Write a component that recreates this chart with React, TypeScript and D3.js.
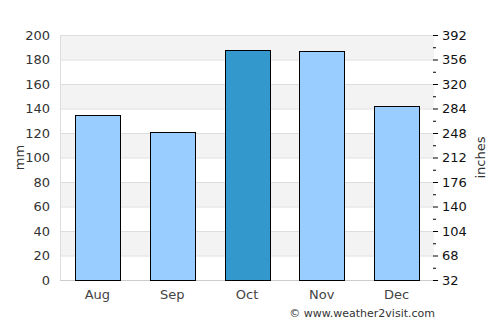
import React from 'react'
import * as d3 from 'd3'

const months = ['Aug', 'Sep', 'Oct', 'Nov', 'Dec']
const rainfall = [135, 121, 188, 187, 142]
const highlight = 'Oct'
const leftTicks = [0, 20, 40, 60, 80, 100, 120, 140, 160, 180, 200]
const rightLabels = ['32', '68', '104', '140', '176', '212', '248', '284', '320', '356', '392']

const width = 500
const height = 325
const margin = { top: 35, right: 66, bottom: 45, left: 60 }

export default function App() {
    const innerW = width - margin.left - margin.right
    const innerH = height - margin.top - margin.bottom

    const x = d3.scaleBand<string>().domain(months).range([0, innerW]).paddingInner(0.4).paddingOuter(0.2)
    const y = d3.scaleLinear().domain([0, 200]).range([innerH, 0])
    const minor = d3.range(10, 200, 20)

    return (
        <svg
            width={width}
            height={height}
            style={{ position: 'absolute', left: 0, top: 0, fontFamily: 'DejaVu Sans, sans-serif' }}
        >
            <rect width={width} height={height} fill="#fff" />
            <g transform={`translate(${margin.left},${margin.top})`}>
                {/* 条纹背景 */}
                {leftTicks.slice(0, -1).map((t, i) =>
                    i % 2 === 1 ? (
                        <rect key={'s' + t} x={0} y={y(t + 20)} width={innerW} height={y(t) - y(t + 20)} fill="#f3f3f3" />
                    ) : null,
                )}
                {leftTicks.map((t) => (
                    <line key={'g' + t} x1={0} x2={innerW} y1={y(t) + 0.5} y2={y(t) + 0.5} stroke="#dddddd" />
                ))}
                <line x1={0.5} x2={0.5} y1={0} y2={innerH} stroke="#dddddd" />
                <line x1={0} x2={innerW} y1={innerH + 0.5} y2={innerH + 0.5} stroke="#cccccc" />

                {months.map((m, i) => (
                    <rect
                        key={m}
                        x={Math.round(x(m)!) + 0.5}
                        y={Math.round(y(rainfall[i])) + 0.5}
                        width={Math.round(x.bandwidth())}
                        height={Math.round(innerH - y(rainfall[i]))}
                        fill={m === highlight ? '#3399cc' : '#99ccff'}
                        stroke="#000"
                        strokeWidth={1}
                    />
                ))}

                {leftTicks.map((t) => (
                    <text key={'l' + t} x={-10} y={y(t)} dy="0.35em" textAnchor="end" fontSize={13} fill="#333">
                        {t}
                    </text>
                ))}

                {months.map((m) => (
                    <text key={'x' + m} x={x(m)! + x.bandwidth() / 2} y={innerH + 19} textAnchor="middle" fontSize={13} fill="#444">
                        {m}
                    </text>
                ))}

                {/* 右侧坐标轴 */}
                {leftTicks.map((t, i) => (
                    <g key={'r' + t}>
                        <line x1={innerW - 1} x2={innerW + 4} y1={y(t) + 0.5} y2={y(t) + 0.5} stroke="#000" />
                        <text x={innerW + 8} y={y(t)} dy="0.35em" fontSize={13} fill="#111">
                            {rightLabels[i]}
                        </text>
                    </g>
                ))}
                {minor.map((t) => (
                    <line key={'m' + t} x1={innerW - 1} x2={innerW + 2} y1={y(t) + 0.5} y2={y(t) + 0.5} stroke="#000" />
                ))}

                <text transform={`translate(${-36},${innerH / 2}) rotate(-90)`} textAnchor="middle" fontSize={13} fill="#333">
                    mm
                </text>
                <text transform={`translate(${innerW + 51},${innerH / 2}) rotate(-90)`} textAnchor="middle" fontSize={13} fill="#333">
                    inches
                </text>
            </g>
            <text x={435} y={317} textAnchor="end" fontSize={11} fill="#333">
                © www.weather2visit.com
            </text>
        </svg>
    )
}
